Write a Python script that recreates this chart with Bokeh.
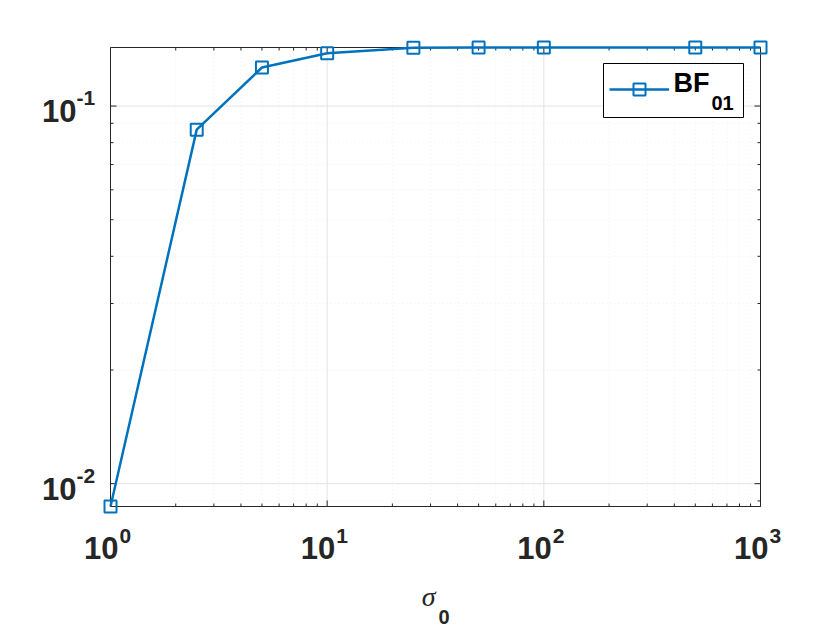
import math
from bokeh.plotting import figure
from bokeh.models import Range1d, Label, Legend, LegendItem, BoxAnnotation
from bokeh.embed import file_html
from bokeh.resources import INLINE

# ---- data ----
sigma0 = [1, 2.5, 5, 10, 25, 50, 100, 500, 1000]
bf01 = [0.0087, 0.0866, 0.1265, 0.138, 0.1427, 0.1428, 0.1429, 0.1429, 0.1429]

x_major = [1, 10, 100, 1000]
x_major_exp = ["0", "1", "2", "3"]
x_minor = [m * 10 ** d for d in range(3) for m in range(2, 10)]
y_major = [0.01, 0.1]
y_major_exp = ["-2", "-1"]
y_minor = [0.009, 0.02, 0.03, 0.04, 0.05, 0.06, 0.07, 0.08, 0.09]

series_label = "BF"
series_sub = "01"
xlabel = "σ"
xlabel_sub = "0"

# ---- layout (the axes box is drawn by hand inside a full-canvas frame) ----
W, H = 840, 630
BOX_L, BOX_R, BOX_T, BOX_B = 110, 760, 47, 506
LEG_L, LEG_R, LEG_T, LEG_B = 603, 743, 63, 117
x_lo, x_hi = min(sigma0), max(sigma0)
y_lo, y_hi = min(bf01), max(bf01)


def extended(lo, hi, px, pad_lo, pad_hi):
    a, b = math.log10(lo), math.log10(hi)
    k = (b - a) / px
    return 10 ** (a - pad_lo * k), 10 ** (b + pad_hi * k)


xr = extended(x_lo, x_hi, BOX_R - BOX_L, BOX_L, W - BOX_R)
yr = extended(y_lo, y_hi, BOX_B - BOX_T, H - BOX_B, BOX_T)

FONT = "Liberation Sans"
INK = "#262626"
BLUE = "#0072BD"

p = figure(x_axis_type="log", y_axis_type="log",
           x_range=Range1d(*xr), y_range=Range1d(*yr),
           frame_width=W, frame_height=H,
           min_border_left=0, min_border_right=0,
           min_border_top=0, min_border_bottom=0,
           output_backend="svg", toolbar_location=None)
p.xaxis.visible = False
p.yaxis.visible = False
p.grid.visible = False
p.outline_line_color = None
p.background_fill_color = "white"
p.border_fill_color = "white"

# grid (lowest level so that the legend box covers it)
p.segment(x0=x_minor, y0=[y_lo] * len(x_minor), x1=x_minor, y1=[y_hi] * len(x_minor),
          line_color="#efefef", line_width=1, line_dash="1 3", level="image")
p.segment(x0=[x_lo] * len(y_minor), y0=y_minor, x1=[x_hi] * len(y_minor), y1=y_minor,
          line_color="#efefef", line_width=1, line_dash="1 3", level="image")
p.segment(x0=x_major, y0=[y_lo] * len(x_major), x1=x_major, y1=[y_hi] * len(x_major),
          line_color="#e3e3e3", line_width=1, level="image")
p.segment(x0=[x_lo] * len(y_major), y0=y_major, x1=[x_hi] * len(y_major), y1=y_major,
          line_color="#e3e3e3", line_width=1, level="image")

# legend box (screen units, measured from the bottom-left corner)
p.add_layout(BoxAnnotation(left=LEG_L, right=LEG_R, top=H - LEG_T, bottom=H - LEG_B,
                           left_units="screen", right_units="screen",
                           top_units="screen", bottom_units="screen",
                           fill_color="white", fill_alpha=1,
                           line_color="black", line_width=1, line_alpha=1,
                           level="underlay"))

# box
p.segment(x0=[x_lo, x_lo, x_lo, x_hi], y0=[y_lo, y_hi, y_lo, y_lo],
          x1=[x_hi, x_hi, x_lo, x_hi], y1=[y_lo, y_hi, y_hi, y_hi],
          line_color=INK, line_width=1)

# ticks (inside, all four sides)
for ticks, ln in ((x_major, 6), (x_minor, 3)):
    n = len(ticks)
    p.ray(x=ticks, y=[y_lo] * n, length=ln, length_units="screen", angle=math.pi / 2,
          line_color=INK, line_width=1)
    p.ray(x=ticks, y=[y_hi] * n, length=ln, length_units="screen", angle=-math.pi / 2,
          line_color=INK, line_width=1)
for ticks, ln in ((y_major, 6), (y_minor, 3)):
    n = len(ticks)
    p.ray(x=[x_lo] * n, y=ticks, length=ln, length_units="screen", angle=0,
          line_color=INK, line_width=1)
    p.ray(x=[x_hi] * n, y=ticks, length=ln, length_units="screen", angle=math.pi,
          line_color=INK, line_width=1)

# data
line_r = p.line(sigma0, bf01, line_color=BLUE, line_width=2.5)
mark_r = p.scatter(sigma0, bf01, marker="square", size=12, line_color=BLUE,
                   line_width=2, fill_color=None)

# legend sample (transparent; the box and texts are drawn separately)
legend = Legend(items=[LegendItem(label=" ", renderers=[line_r, mark_r])],
                location=(LEG_L + 6, H - LEG_B + 6), margin=0, padding=5, spacing=0,
                glyph_width=60, glyph_height=30, label_standoff=6,
                label_width=64, label_height=44,
                label_text_font=FONT, label_text_font_size="27px",
                border_line_color=None, background_fill_alpha=0)
p.add_layout(legend)


def txt(x, y, dx, dy, s, align, size, style="bold", font=FONT, color=INK):
    p.add_layout(Label(x=x, y=y, x_offset=dx, y_offset=dy, text=s,
                       text_align=align, text_baseline="alphabetic",
                       text_font=font, text_font_style=style,
                       text_font_size=size, text_color=color))


txt(x_hi, y_hi, -87, -35, series_label, "left", "27px", color="black")
txt(x_hi, y_hi, -49, -55, series_sub, "left", "20px", color="black")

# tick labels
for t, e in zip(x_major, x_major_exp):
    txt(t, y_lo, 8, -41, "10", "right", "31px")
    txt(t, y_lo, 9, -29, e, "left", "21px")
for t, e in zip(y_major, y_major_exp):
    txt(x_lo, t, -34, -5, "10", "right", "31px")
    txt(x_lo, t, -34, 8, e, "left", "21px")

# axis label
xc = math.sqrt(x_lo * x_hi)
txt(xc, y_lo, 0, -90, xlabel, "right", "28px", style="italic", font="Liberation Serif")
txt(xc, y_lo, 3, -110, xlabel_sub, "left", "20px")

open("out.html", "w").write(file_html(p, INLINE))
